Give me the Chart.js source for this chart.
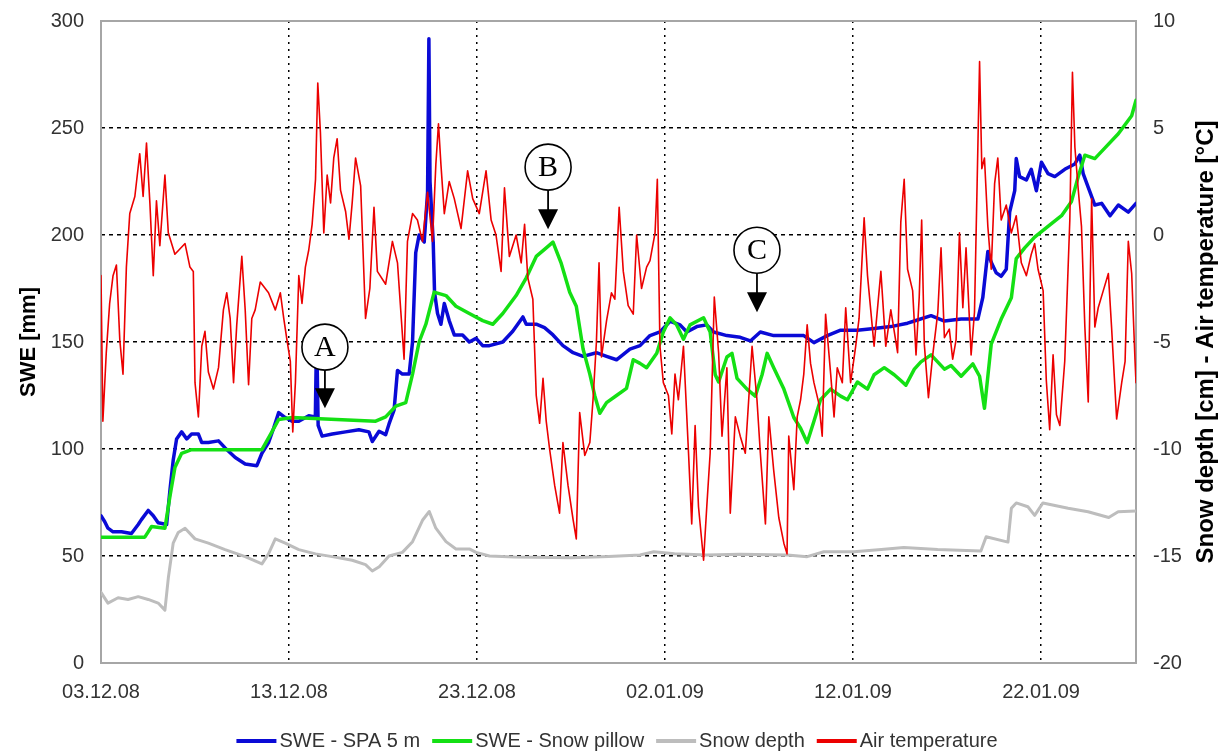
<!DOCTYPE html>
<html>
<head>
<meta charset="utf-8">
<script src="https://cdn.jsdelivr.net/npm/chart.js@4.4.1/dist/chart.umd.min.js"></script>
<style>
  html, body { margin: 0; padding: 0; background: #fff; }
  canvas { display: block; }
</style>
</head>
<body>
<canvas id="chart" width="1226" height="753"></canvas>
<script>
// Days counted from 03.12.08 00:00
const tickDays = [0, 10, 20, 30, 40, 50];
const tickLabels = ['03.12.08', '13.12.08', '23.12.08', '02.01.09', '12.01.09', '22.01.09'];
const seriesNames = ['SWE - SPA 5 m', 'SWE - Snow pillow', 'Snow depth', 'Air temperature'];

// [day, SWE mm] – snow pack analyser at 5 m
const spaSwe = [[0,68.8],[0.2,66],[0.37,63],[0.64,61.3],[1.09,61.3],[1.62,60.5],[1.98,64.7],[2.15,67],[2.51,71.3],[2.78,68.8],[3.04,65.5],[3.49,64.7],[3.67,81],[3.84,94.7],[4.02,104.7],[4.29,108],[4.56,104.7],[4.82,107],[5.18,107],[5.36,103],[5.71,103],[6.25,103.8],[6.6,100.5],[7.14,96],[7.67,93],[8.29,92.2],[8.56,98],[8.91,103],[9.18,109.7],[9.45,117],[9.8,114.7],[10.16,113],[10.52,113],[11.05,115.5],[11.4,115],[11.44,138],[11.5,138],[11.55,111],[11.76,106],[12.3,107],[13.01,108],[13.72,109],[14.25,108],[14.43,103.5],[14.79,108.3],[15.14,106.7],[15.32,111.7],[15.59,118.3],[15.77,136.7],[16.03,135],[16.39,135],[16.57,150],[16.74,191.7],[16.92,200],[17.19,196.7],[17.37,220],[17.44,291.7],[17.5,225],[17.67,196.7],[17.74,173.3],[17.9,163.3],[18.08,158.3],[18.26,168],[18.52,160],[18.79,153.3],[19.23,153.3],[19.59,150],[19.95,151.7],[20.3,148.3],[20.66,148.3],[21.37,150],[21.9,155],[22.44,161.7],[22.62,158.3],[23.15,158.3],[23.59,156.7],[24.04,153.3],[24.57,148.3],[25.11,145],[25.64,143.3],[26.35,145],[26.89,143.3],[27.42,141.7],[28.13,146.7],[28.67,148.3],[29.2,153],[29.73,154.7],[30.27,159.7],[30.8,158],[31.16,154.7],[31.69,157.2],[32.22,158],[32.58,154.7],[33.29,153],[34.0,152.2],[34.54,150.5],[35.07,154.7],[35.78,153],[36.67,153],[37.38,153],[37.92,149.7],[38.63,153],[39.34,155.5],[40.23,155.5],[41.12,156.3],[42.01,157.2],[42.9,158.8],[43.26,159.8],[44.15,162.3],[44.86,159.8],[45.75,160.7],[46.64,160.7],[46.9,170.7],[47.17,192.3],[47.35,187.3],[47.62,182.3],[47.88,180.7],[48.15,184],[48.33,210.7],[48.6,220.7],[48.68,235.7],[48.86,227.3],[49.22,225.7],[49.48,230.7],[49.75,220.7],[50.02,234],[50.37,228.7],[50.73,227.3],[51.26,230.7],[51.8,233.2],[52.06,237.3],[52.24,228.7],[52.51,222.3],[52.86,214],[53.22,214.8],[53.67,209],[54.11,214],[54.64,210.7],[55.05,214.8]];

// [day, SWE mm] – snow pillow
const pillowSwe = [[0,58.8],[2.33,58.8],[2.51,61.3],[2.69,63.8],[3.4,63],[3.67,78],[3.93,91.3],[4.29,98],[4.82,99.7],[8.56,99.7],[9.09,108],[9.45,113.8],[10.16,114.7],[14.61,113],[15.14,115],[15.68,120],[16.21,121.7],[16.57,135],[16.92,150],[17.28,158.3],[17.72,173.3],[18.35,171.7],[18.88,166.7],[19.59,163.3],[20.3,160],[20.84,158.3],[21.37,163.3],[22.08,171.7],[22.62,180],[23.15,190],[23.59,193.3],[24.04,196.7],[24.48,186.7],[24.93,173.3],[25.28,166.7],[25.64,146.7],[26.0,135],[26.26,125],[26.53,116.7],[26.89,121.7],[27.42,125],[27.95,128.3],[28.31,141.7],[28.67,140],[29.02,138],[29.56,144.7],[29.91,154.7],[30.27,161.3],[30.62,158],[30.98,151.3],[31.33,158],[32.05,161.3],[32.4,154.7],[32.67,134.7],[32.85,131.3],[33.29,143],[33.56,144.7],[33.83,133],[34.36,128],[34.8,124.7],[35.16,134.7],[35.43,144.7],[35.78,138],[36.32,128],[36.85,114.7],[37.21,109.7],[37.56,103],[37.92,113],[38.27,123],[38.81,128],[39.34,124.7],[39.7,123],[40.23,131.3],[40.77,128],[41.12,134.7],[41.66,138],[42.19,134.7],[42.54,132],[42.81,129.8],[43.26,137.3],[43.61,140.7],[44.15,144],[44.5,140.7],[44.86,137.3],[45.21,139],[45.75,134],[46.37,139.8],[46.73,134],[46.99,119],[47.35,149],[47.88,160.7],[48.42,170.7],[48.68,189],[49.13,194],[49.66,199],[50.37,204],[51.09,209],[51.62,215.7],[51.98,227.3],[52.33,237.3],[52.86,235.7],[53.4,240.7],[54.11,247.3],[54.82,255.7],[55.05,263]];

// [day, snow depth cm]
const snowDepth = [[0,33],[0.37,28],[0.91,30.5],[1.44,29.7],[1.98,31],[2.51,29.7],[3.04,28],[3.4,24.7],[3.58,39.7],[3.84,56],[4.11,61],[4.47,63],[5.0,58],[5.71,56],[6.6,53],[7.67,49.7],[8.56,46.3],[8.91,51],[9.27,58],[9.8,56],[10.52,53],[11.41,51],[12.3,49.7],[13.36,48],[14.07,46],[14.43,43],[14.8,45],[15.32,50],[16.03,51.7],[16.57,56.7],[17.1,66.7],[17.46,70.8],[17.81,63],[18.35,56.7],[18.88,53.3],[19.59,53.3],[19.95,51.7],[20.66,50],[22,49.5],[25,49.2],[27,49.8],[28.67,50.5],[29.4,52],[30.5,51],[32.2,50.5],[34,50.8],[36.5,50.5],[37.56,49.7],[38.45,52],[40.05,52],[41.5,53],[42.7,54],[44.5,53],[46.8,52.3],[47.08,59],[48.24,56.5],[48.42,72.3],[48.68,74.8],[49.3,73],[49.66,69],[50.1,74.8],[51.44,72.3],[52.5,70.7],[53.6,68],[54.1,70.7],[55.05,71]];

// [day, air temperature °C]
const airTemp = [[0,-1.9],[0.1,-8.7],[0.28,-5.5],[0.46,-3.2],[0.64,-1.9],[0.82,-1.4],[1.0,-4.9],[1.17,-6.5],[1.35,-1.5],[1.53,1.0],[1.8,1.8],[2.06,3.8],[2.24,1.8],[2.42,4.3],[2.6,1.5],[2.78,-1.9],[2.95,1.6],[3.13,-0.5],[3.4,2.8],[3.58,0.1],[3.93,-0.9],[4.47,-0.4],[4.73,-1.5],[4.91,-1.7],[5.0,-6.9],[5.18,-8.5],[5.36,-5.2],[5.53,-4.5],[5.71,-6.4],[5.98,-7.2],[6.25,-6.2],[6.51,-3.5],[6.69,-2.7],[6.87,-3.9],[7.05,-6.9],[7.22,-4.2],[7.49,-1.0],[7.67,-3.5],[7.85,-7.0],[8.02,-3.9],[8.2,-3.5],[8.47,-2.2],[8.91,-2.7],[9.27,-3.5],[9.54,-2.7],[9.72,-3.9],[9.89,-4.9],[10.07,-5.9],[10.2,-9.2],[10.34,-6.9],[10.52,-1.9],[10.69,-3.2],[10.87,-1.5],[11.05,-0.7],[11.23,0.5],[11.41,2.6],[11.53,7.1],[11.67,4.8],[11.85,0.1],[12.03,2.8],[12.21,1.5],[12.38,3.6],[12.56,4.5],[12.74,2.1],[13.01,1.1],[13.19,-0.2],[13.36,1.5],[13.54,3.6],[13.81,2.3],[14.07,-3.9],[14.3,-2.5],[14.52,1.3],[14.7,-1.7],[15.14,-2.3],[15.5,-0.3],[15.77,-1.3],[16.12,-5.8],[16.3,-0.3],[16.57,1.0],[16.83,0.7],[17.1,-0.3],[17.37,2.0],[17.63,-0.3],[17.81,3.3],[17.95,5.2],[18.08,3.3],[18.26,1.0],[18.52,2.5],[18.79,1.7],[19.15,0.3],[19.5,3.0],[19.77,1.7],[20.12,1.0],[20.48,3.0],[20.75,0.7],[21.01,0],[21.28,-1.7],[21.46,2.2],[21.72,-1.0],[22.08,0],[22.35,-1.3],[22.53,0.5],[22.7,-2.0],[22.97,-3.0],[23.15,-7.5],[23.33,-8.8],[23.51,-6.7],[23.68,-8.7],[23.86,-10.0],[24.13,-11.7],[24.39,-13.0],[24.57,-9.7],[24.84,-11.7],[25.11,-13.3],[25.28,-14.2],[25.46,-8.3],[25.73,-10.3],[26.0,-9.7],[26.17,-7.7],[26.35,-5.0],[26.49,-1.3],[26.62,-5.7],[26.89,-4.0],[27.15,-2.7],[27.33,-3.0],[27.56,1.3],[27.78,-1.7],[28.04,-3.3],[28.31,-3.7],[28.49,0],[28.75,-2.5],[29.02,-1.5],[29.2,-1.2],[29.47,0.1],[29.59,2.6],[29.73,-5.2],[29.91,-6.9],[30.18,-7.5],[30.36,-9.3],[30.53,-6.5],[30.71,-7.7],[30.98,-5.2],[31.25,-10.2],[31.42,-13.5],[31.6,-8.9],[31.78,-12.7],[32.05,-15.2],[32.22,-12.7],[32.4,-10.2],[32.62,-2.9],[32.85,-5.5],[33.03,-9.4],[33.29,-6.2],[33.47,-13.0],[33.74,-8.5],[34.0,-9.4],[34.27,-10.2],[34.45,-7.7],[34.63,-5.2],[34.89,-7.7],[35.07,-10.2],[35.34,-13.5],[35.52,-8.5],[35.78,-11.0],[36.05,-13.2],[36.32,-14.4],[36.49,-14.9],[36.58,-9.4],[36.85,-11.9],[37.03,-8.5],[37.21,-7.7],[37.38,-6.5],[37.56,-4.2],[37.74,-6.0],[37.92,-6.9],[38.19,-7.9],[38.36,-9.4],[38.54,-3.7],[38.81,-6.5],[38.99,-8.5],[39.16,-6.2],[39.43,-6.9],[39.61,-3.4],[39.87,-6.9],[40.14,-5.2],[40.32,-3.9],[40.59,0.8],[40.77,-1.9],[40.94,-3.5],[41.12,-5.2],[41.48,-1.7],[41.74,-5.2],[42.01,-3.5],[42.37,-5.5],[42.54,0.6],[42.72,2.6],[42.9,-1.6],[43.17,-2.6],[43.35,-5.6],[43.52,-2.9],[43.65,0.7],[43.79,-5.1],[44.01,-7.6],[44.24,-5.6],[44.51,-3.6],[44.68,-0.6],[44.86,-4.8],[45.12,-4.4],[45.3,-5.8],[45.48,-4.9],[45.66,0.1],[45.84,-3.4],[46.01,-0.6],[46.28,-5.6],[46.46,-3.6],[46.6,2.4],[46.73,8.1],[46.85,3.1],[46.99,3.6],[47.17,0.4],[47.35,-1.6],[47.53,2.4],[47.7,3.6],[47.88,0.7],[48.15,1.4],[48.42,0.1],[48.68,0.9],[48.95,-1.3],[49.22,-1.9],[49.48,-0.9],[49.66,-0.4],[49.84,-1.6],[50.11,-2.6],[50.28,-6.8],[50.46,-9.1],[50.64,-5.6],[50.82,-8.4],[51.0,-8.9],[51.26,-5.9],[51.53,0.7],[51.67,7.6],[51.8,4.1],[51.98,2.1],[52.15,0.4],[52.33,-4.3],[52.51,-7.8],[52.69,1.7],[52.86,-4.3],[53.04,-3.4],[53.31,-2.6],[53.58,-1.8],[53.75,-4.3],[54.02,-8.6],[54.29,-6.9],[54.47,-5.9],[54.64,-0.3],[54.82,-1.8],[55.0,-5.9],[55.05,-6.9]];

// Event markers: letter, day, SWE of circle centre, SWE of arrow tip
const markLetters = ['A', 'B', 'C'];
const markDays = [11.91, 23.78, 34.89];
const markCircleSwe = [147.6, 231.7, 192.9];
const markTipSwe = [119.1, 202.7, 163.9];

const SANS = '"Liberation Sans", Arial, sans-serif';
const SERIF = '"Liberation Serif", "Times New Roman", serif';
const TEXT = '#333';

const toPoints = arr => arr.map(p => ({ x: p[0], y: p[1] }));

// Gray frame around the plotting area
const framePlugin = {
  id: 'frame',
  beforeDatasetsDraw(chart) {
    const { ctx, chartArea: a } = chart;
    ctx.save();
    ctx.strokeStyle = '#a6a6a6';
    ctx.lineWidth = 2;
    ctx.strokeRect(a.left, a.top, a.right - a.left, a.bottom - a.top);
    ctx.restore();
  }
};

// Circled letters with arrows pointing at the curves
const markerPlugin = {
  id: 'markers',
  afterDatasetsDraw(chart) {
    const { ctx, scales } = chart;
    const r = 23, triH = 20, triW = 20;
    ctx.save();
    markLetters.forEach((letter, i) => {
      const cx = scales.x.getPixelForValue(markDays[i]);
      const cy = scales.y.getPixelForValue(markCircleSwe[i]);
      const tip = scales.y.getPixelForValue(markTipSwe[i]);
      ctx.strokeStyle = '#000';
      ctx.fillStyle = '#000';
      ctx.lineWidth = 1.8;
      ctx.beginPath();
      ctx.moveTo(cx, cy + r);
      ctx.lineTo(cx, tip - triH + 1);
      ctx.stroke();
      ctx.beginPath();
      ctx.moveTo(cx - triW / 2, tip - triH);
      ctx.lineTo(cx + triW / 2, tip - triH);
      ctx.lineTo(cx, tip);
      ctx.closePath();
      ctx.fill();
      ctx.beginPath();
      ctx.arc(cx, cy, r, 0, Math.PI * 2);
      ctx.fillStyle = '#fff';
      ctx.fill();
      ctx.lineWidth = 1.6;
      ctx.stroke();
      ctx.fillStyle = '#000';
      ctx.font = '30px ' + SERIF;
      ctx.textAlign = 'center';
      ctx.textBaseline = 'middle';
      ctx.fillText(letter, cx, cy + 1);
    });
    ctx.restore();
  }
};

// Axis titles (both read bottom-to-top) and the legend row
const textPlugin = {
  id: 'texts',
  afterDraw(chart) {
    const { ctx, chartArea: a } = chart;
    const midY = (a.top + a.bottom) / 2;
    ctx.save();
    ctx.fillStyle = '#000';
    ctx.textAlign = 'center';
    ctx.textBaseline = 'middle';

    ctx.save();
    ctx.translate(29, midY);
    ctx.rotate(-Math.PI / 2);
    ctx.font = 'bold 22px ' + SANS;
    ctx.fillText('SWE [mm]', 0, 0);
    ctx.restore();

    ctx.save();
    ctx.translate(1206, midY);
    ctx.rotate(-Math.PI / 2);
    ctx.font = 'bold 24px ' + SANS;
    ctx.fillText('Snow depth [cm] - Air temperature [°C]', 0, 0);
    ctx.restore();

    // legend
    const lineLen = 40, textGap = 3, itemGap = 12, legendY = 741;
    ctx.font = '20px ' + SANS;
    const items = chart.data.datasets.map(ds => ({ label: ds.label, color: ds.borderColor }));
    const widths = items.map(it => lineLen + textGap + ctx.measureText(it.label).width);
    const total = widths.reduce((s, w) => s + w, 0) + itemGap * (items.length - 1);
    let x = 617 - total / 2;
    ctx.textAlign = 'left';
    items.forEach((it, i) => {
      ctx.strokeStyle = it.color;
      ctx.lineWidth = 4;
      ctx.beginPath();
      ctx.moveTo(x, legendY);
      ctx.lineTo(x + lineLen, legendY);
      ctx.stroke();
      ctx.fillStyle = TEXT;
      ctx.fillText(it.label, x + lineLen + textGap, legendY);
      x += widths[i] + itemGap;
    });
    ctx.restore();
  }
};

const lineStyle = { pointRadius: 0, pointHoverRadius: 0, tension: 0, fill: false, borderJoinStyle: 'round', borderCapStyle: 'round' };

// Fixed axis box sizes; no extra label overhang padding
const fixWidth = w => s => { s.width = w; s.paddingTop = 0; s.paddingBottom = 0; };

new Chart(document.getElementById('chart'), {
  type: 'line',
  data: {
    datasets: [
      { ...lineStyle, label: seriesNames[0], data: toPoints(spaSwe), borderColor: '#0a0ad6', backgroundColor: '#0a0ad6', borderWidth: 3.5, yAxisID: 'y', order: 2 },
      { ...lineStyle, label: seriesNames[1], data: toPoints(pillowSwe), borderColor: '#14e014', backgroundColor: '#14e014', borderWidth: 3.5, yAxisID: 'y', order: 1 },
      { ...lineStyle, label: seriesNames[2], data: toPoints(snowDepth), borderColor: '#bdbdbd', backgroundColor: '#bdbdbd', borderWidth: 3, yAxisID: 'y', order: 3 },
      { ...lineStyle, label: seriesNames[3], data: toPoints(airTemp), borderColor: '#ec0000', backgroundColor: '#ec0000', borderWidth: 1.6, yAxisID: 'y2', order: 0 }
    ]
  },
  options: {
    responsive: false,
    animation: false,
    devicePixelRatio: 1,
    layout: { padding: { top: 21, left: 0, right: 0, bottom: 0 } },
    plugins: { legend: { display: false }, tooltip: { enabled: false } },
    scales: {
      x: {
        type: 'linear',
        min: 0,
        max: 55.05,
        afterFit: s => { s.height = 90; s.paddingLeft = 0; s.paddingRight = 0; },
        afterBuildTicks: s => { s.ticks = tickDays.map(v => ({ value: v })); },
        ticks: {
          callback: (v, i) => tickLabels[i],
          autoSkip: false,
          maxRotation: 0,
          padding: 17,
          color: TEXT,
          font: { family: SANS, size: 20 }
        },
        grid: {
          color: c => (c.tick && c.tick.value === 0) ? 'rgba(0,0,0,0)' : '#000',
          lineWidth: 1.5,
          drawTicks: false
        },
        border: { display: false, dash: [2, 5] }
      },
      y: {
        position: 'left',
        min: 0,
        max: 300,
        afterFit: fixWidth(101),
        ticks: { stepSize: 50, padding: 17, color: TEXT, font: { family: SANS, size: 20 } },
        grid: {
          color: c => (c.tick && (c.tick.value === 0 || c.tick.value === 300)) ? 'rgba(0,0,0,0)' : '#000',
          lineWidth: 1.5,
          drawTicks: false
        },
        border: { display: false, dash: [4, 4] }
      },
      y2: {
        position: 'right',
        min: -20,
        max: 10,
        afterFit: fixWidth(90),
        ticks: { stepSize: 5, padding: 17, color: TEXT, font: { family: SANS, size: 20 } },
        grid: { display: false, drawTicks: false },
        border: { display: false }
      }
    }
  },
  plugins: [framePlugin, markerPlugin, textPlugin]
});
</script>
</body>
</html>
